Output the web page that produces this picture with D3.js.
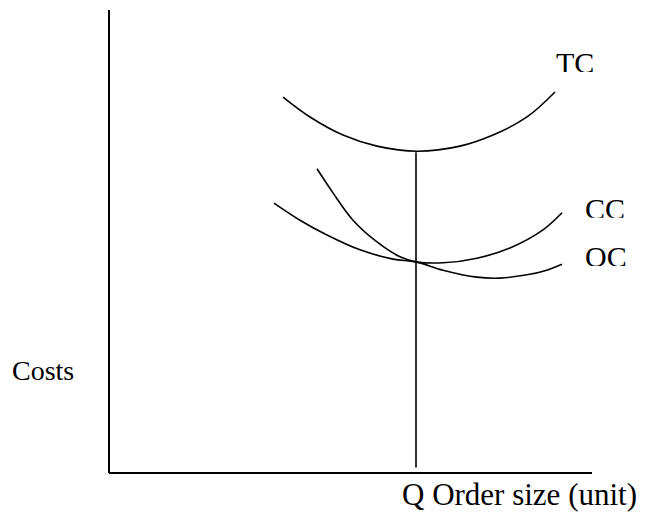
<!DOCTYPE html>
<html>
<head>
<meta charset="utf-8">
<script src="https://cdn.jsdelivr.net/npm/d3@7"></script>
<style>
  body { margin: 0; background: #fff; }
  text { font-family: "Liberation Serif", "Times New Roman", serif; fill: #000; }
</style>
</head>
<body>
<div id="chart"></div>
<script>
// order size (x) and cost (y) in arbitrary units
const tcX = [34.8, 40.2, 46.8, 53.6, 61.6, 70.2, 76.8, 83.6, 89.2];
const tcY = [81.2, 76.9, 73.0, 70.6, 69.5, 70.6, 73.0, 76.9, 82.3];

const ccX = [41.6, 44.8, 48.8, 53.6, 58.2, 61.4, 66.8, 73.6, 80.2, 86.8, 90.6];
const ccY = [65.7, 60.5, 54.6, 49.9, 46.7, 45.6, 45.4, 46.4, 48.6, 52.5, 56.2];

const ocX = [33.0, 38.2, 43.6, 50.2, 56.8, 61.4, 66.8, 73.6, 78.2, 83.6, 87.2, 90.6];
const ocY = [58.3, 54.6, 51.4, 48.2, 46.2, 45.6, 43.8, 42.3, 42.1, 42.8, 43.7, 45.1];

const qStar = 61.4;       // optimal order size
const qStarCost = 69.3;   // where the vertical line stops (TC minimum)

const labels = [
  { name: 'TC', x: 89.4, y: 86.4 },
  { name: 'CC', x: 95.2, y: 54.9 },
  { name: 'OC', x: 95.2, y: 44.5 }
];

const width = 646, height = 516;
const plot = { left: 109, right: 609, top: 10, bottom: 473 };

const svg = d3.select('#chart')
  .append('svg')
    .attr('width', width)
    .attr('height', height);

const xScale = d3.scaleLinear()
  .domain([0, 100])
  .range([plot.left, plot.right]);

const yScale = d3.scaleLinear()
  .domain([0, 100])
  .range([plot.bottom, plot.top]);

// axes: just the two bare lines
svg.append('line')
  .attr('x1', xScale(0)).attr('y1', yScale(100))
  .attr('x2', xScale(0)).attr('y2', yScale(0))
  .attr('stroke', '#000').attr('stroke-width', 2);

svg.append('line')
  .attr('x1', xScale(0)).attr('y1', yScale(0))
  .attr('x2', xScale(96.6)).attr('y2', yScale(0))
  .attr('stroke', '#000').attr('stroke-width', 2);

// vertical line at Q
svg.append('line')
  .attr('x1', xScale(qStar)).attr('y1', yScale(qStarCost))
  .attr('x2', xScale(qStar)).attr('y2', yScale(1.2))
  .attr('stroke', '#000').attr('stroke-width', 1.6);

const line = d3.line()
  .x(d => xScale(d[0]))
  .y(d => yScale(d[1]))
  .curve(d3.curveCatmullRom);

const curves = [
  [tcX, tcY],
  [ccX, ccY],
  [ocX, ocY]
];

curves.forEach(([xs, ys]) => {
  svg.append('path')
    .datum(d3.zip(xs, ys))
    .attr('fill', 'none')
    .attr('stroke', '#000')
    .attr('stroke-width', 1.6)
    .attr('d', line);
});

// curve labels (bottoms cut off as in the original)
labels.forEach((l, i) => {
  const bx = xScale(l.x), by = yScale(l.y);
  svg.append('clipPath')
    .attr('id', 'clip' + i)
    .append('rect')
      .attr('x', bx - 5).attr('y', by - 32)
      .attr('width', 70).attr('height', 31);
  svg.append('text')
    .attr('clip-path', `url(#clip${i})`)
    .attr('x', bx)
    .attr('y', by)
    .style('font-size', '30px')
    .text(l.name);
});

svg.append('text')
  .attr('x', 12)
  .attr('y', 380)
  .style('font-size', '28px')
  .text('Costs');

svg.append('text')
  .attr('x', 402)
  .attr('y', 505)
  .style('font-size', '31px')
  .text('Q Order size (unit)');
</script>
</body>
</html>
